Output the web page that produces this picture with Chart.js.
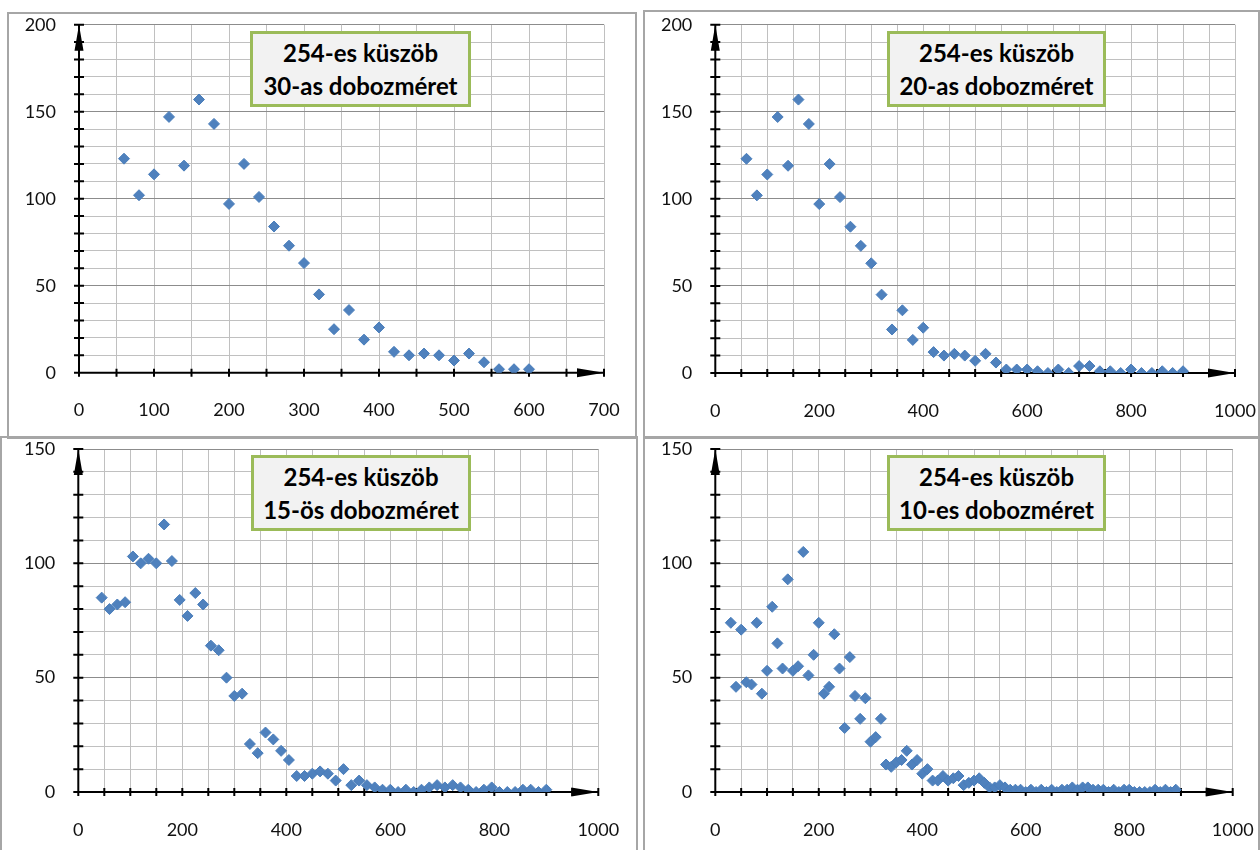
<!DOCTYPE html>
<html><head><meta charset="utf-8">
<script src="https://cdn.jsdelivr.net/npm/chart.js@4/dist/chart.umd.min.js"></script>
<style>
html,body{margin:0;padding:0;background:#fff;width:1260px;height:850px;overflow:hidden;position:relative;font-family:Lato,sans-serif}
canvas{position:absolute;left:0;top:0}
.panel{position:absolute;border:2px solid #a6a6a6;box-sizing:border-box}
.lbl{position:absolute;box-sizing:border-box;border:3px solid #9bbb59;background:#f2f2f2;font-weight:bold;font-size:24px;font-family:Lato,sans-serif;text-align:center;line-height:33px;color:#000;padding-top:2px;white-space:nowrap}
</style></head><body>
<div class="panel" style="left:7px;top:12px;width:630px;height:427px"></div>
<div class="panel" style="left:643px;top:10px;width:617px;height:429px"></div>
<div class="panel" style="left:0px;top:436px;width:638px;height:420px"></div>
<div class="panel" style="left:643px;top:436px;width:617px;height:420px"></div>
<canvas id="c1" width="1260" height="850"></canvas>
<canvas id="c2" width="1260" height="850"></canvas>
<canvas id="c3" width="1260" height="850"></canvas>
<canvas id="c4" width="1260" height="850"></canvas>
<div class="lbl" style="left:250px;top:31px;width:221px;height:76px">254-es küszöb<br>30-as dobozméret</div>
<div class="lbl" style="left:887px;top:31px;width:219px;height:76px">254-es küszöb<br>20-as dobozméret</div>
<div class="lbl" style="left:251px;top:455px;width:220px;height:76px">254-es küszöb<br>15-ös dobozméret</div>
<div class="lbl" style="left:887px;top:455px;width:219px;height:76px">254-es küszöb<br>10-es dobozméret</div>
<script>
// ---- data ----
const x30 = [60,80,100,120,140,160,180,200,220,240,260,280,300,320,340,360,380,400,420,440,460,480,500,520,540,560,580,600];
const y30 = [123,102,114,147,119,157,143,97,120,101,84,73,63,45,25,36,19,26,12,10,11,10,7,11,6,2,2,2];

const x20 = [60,80,100,120,140,160,180,200,220,240,260,280,300,320,340,360,380,400,420,440,460,480,500,520,540,560,580,600,620,640,660,680,700,720,740,760,780,800,820,840,860,880,900];
const y20 = [123,102,114,147,119,157,143,97,120,101,84,73,63,45,25,36,19,26,12,10,11,10,7,11,6,2,2,2,1,0,2,0,4,4,1,1,0,2,0,0,1,0,1];

const x15 = [45,60,75,90,105,120,135,150,165,180,195,210,225,240,255,270,285,300,315,330,345,360,375,390,405,420,435,450,465,480,495,510,525,540,555,570,585,600,615,630,645,660,675,690,705,720,735,750,765,780,795,810,825,840,855,870,885,900];
const y15 = [85,80,82,83,103,100,102,100,117,101,84,77,87,82,64,62,50,42,43,21,17,26,23,18,14,7,7,8,9,8,5,10,3,5,3,2,1,1,0,1,0,1,2,3,2,3,2,1,0,1,2,0,0,0,1,1,0,1];

const x10 = [30,40,50,60,70,80,90,100,110,120,130,140,150,160,170,180,190,200,210,220,230,240,250,260,270,280,290,300,310,320,330,340,350,360,370,380,390,400,410,420,430,440,450,460,470,480,490,500,510,520,530,540,550,560,570,580,590,600,610,620,630,640,650,660,670,680,690,700,710,720,730,740,750,760,770,780,790,800,810,820,830,840,850,860,870,880,890];
const y10 = [74,46,71,48,47,74,43,53,81,65,54,93,53,55,105,51,60,74,43,46,69,54,28,59,42,32,41,22,24,32,12,11,13,14,18,12,14,8,10,5,5,7,5,6,7,3,4,5,6,4,2,2,3,2,1,1,1,0,1,0,1,0,1,0,1,1,2,1,2,2,1,1,1,0,1,0,1,1,0,0,0,0,1,0,1,0,1];

const TEXT = '#111';
const FONT = {family: 'Lato, sans-serif', size: 18};

const axisPlugin = {
  id: 'arrowAxes',
  beforeDatasetsDraw(chart) {
    const ctx = chart.ctx, xs = chart.scales.x, ys = chart.scales.y, a = chart.chartArea;
    const x0 = xs.getPixelForValue(0), y0 = ys.getPixelForValue(0);
    ctx.save();
    ctx.strokeStyle = '#000'; ctx.fillStyle = '#000'; ctx.lineWidth = 2;
    ctx.beginPath();
    ctx.moveTo(x0, y0); ctx.lineTo(a.right, y0);
    ctx.moveTo(x0, y0); ctx.lineTo(x0, a.top);
    xs.ticks.forEach(t => { const p = xs.getPixelForValue(t.value); ctx.moveTo(p, y0 - 4); ctx.lineTo(p, y0 + 4); });
    ys.ticks.forEach(t => { const p = ys.getPixelForValue(t.value); ctx.moveTo(x0 - 5, p); ctx.lineTo(x0 + 5, p); });
    ctx.stroke();
    ctx.beginPath();
    ctx.moveTo(a.right, y0); ctx.lineTo(a.right - 27, y0 - 4.5); ctx.lineTo(a.right - 27, y0 + 4.5); ctx.closePath();
    ctx.moveTo(x0, a.top); ctx.lineTo(x0 - 4.5, a.top + 26); ctx.lineTo(x0 + 4.5, a.top + 26); ctx.closePath();
    ctx.fill();
    ctx.restore();
  }
};

function zeroPad(s) { s.paddingTop = 0; s.paddingBottom = 0; s.paddingLeft = 0; s.paddingRight = 0; }

function makeChart(id, xsArr, ysArr, xMax, xLabelStep, yMax, area) {
  const pts = xsArr.map((x, i) => ({x: x, y: ysArr[i]}));
  new Chart(document.getElementById(id), {
    type: 'scatter',
    data: {datasets: [{data: pts, pointStyle: 'rectRot', pointRadius: 5.5, pointHoverRadius: 5.5,
      backgroundColor: '#4f81bd', borderColor: '#4a7ebb', borderWidth: 1}]},
    options: {
      responsive: false, animation: false, devicePixelRatio: 1,
      layout: {padding: {left: 0, top: area.t, right: 1260 - area.r, bottom: 0}},
      plugins: {legend: {display: false}, tooltip: {enabled: false}},
      scales: {
        x: {type: 'linear', min: 0, max: xMax,
          afterFit(s) { s.height = 850 - area.b; zeroPad(s); },
          border: {display: false},
          grid: {color: '#c0c0c0', lineWidth: 1, drawTicks: false},
          ticks: {stepSize: 50, padding: 27, maxRotation: 0, autoSkip: false, color: TEXT, font: FONT,
            callback: v => (v % xLabelStep === 0 ? String(v) : '')}
        },
        y: {type: 'linear', min: 0, max: yMax,
          afterFit(s) { s.width = area.l; zeroPad(s); },
          border: {display: false},
          grid: {color: c => (c.tick && c.tick.value % 50 === 0 ? '#8c8c8c' : '#c0c0c0'), lineWidth: 1, drawTicks: false},
          ticks: {stepSize: 10, padding: 23, autoSkip: false, color: TEXT, font: FONT,
            callback: v => (v % 50 === 0 ? String(v) : '')}
        }
      }
    },
    plugins: [axisPlugin]
  });
}

makeChart('c1', x30, y30, 700, 100, 200, {l: 79, t: 24.7, r: 604, b: 372.7});
makeChart('c2', x20, y20, 1000, 200, 200, {l: 715.3, t: 24.7, r: 1235, b: 373});
makeChart('c3', x15, y15, 1000, 200, 150, {l: 78.3, t: 449, r: 598.3, b: 792});
makeChart('c4', x10, y10, 1000, 200, 150, {l: 715.3, t: 449, r: 1232.7, b: 792});
</script>
</body></html>
